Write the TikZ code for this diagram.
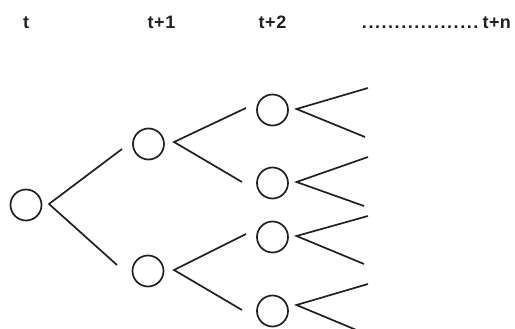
\documentclass[tikz,border=0pt]{standalone}
\usepackage{fontspec}
\setmainfont{Liberation Sans}
\definecolor{ink}{HTML}{231F20}
\begin{document}
\begin{tikzpicture}[x=1pt,y=-1pt,
  state/.style={circle,draw=ink,line width=1.7pt,minimum size=31pt,inner sep=0pt},
  branch/.style={draw=ink,line width=1.7pt},
  lbl/.style={anchor=base,inner sep=0pt,text=ink,font=\fontsize{18}{20}\selectfont\bfseries\addfontfeature{LetterSpace=4}}]
\clip (0,0) rectangle (515,329);
\useasboundingbox (0,0) rectangle (515,329);
% time labels
\node[lbl] (l0) at (26,29) {t};
\node[lbl] (l1) at (161.5,29) {t+1};
\node[lbl] (l2) at (272.5,29) {t+2};
\node[lbl,anchor=base west,font=\fontsize{18}{20}\selectfont\bfseries\addfontfeature{LetterSpace=2}] (ln) at (482.5,29) {t+n};
\node[lbl,anchor=base west,font=\fontsize{18}{20}\selectfont\bfseries] (dots) at (361,29)
  {\hbox to 117.9pt{\xleaders\hbox to 6.55pt{\hss.\hss}\hfill}};
% states
\node[state] (R) at (26,205) {};
\node[state] (A) at (148.5,144) {};
\node[state] (B) at (148,271) {};
\node[state] (C1) at (272.5,110) {};
\node[state] (C2) at (272.5,183) {};
\node[state] (C3) at (272.5,237) {};
\node[state] (C4) at (272.5,311) {};
% free ends
\coordinate (e1a) at (368,88);  \coordinate (e1b) at (365,137);
\coordinate (e2a) at (368,157); \coordinate (e2b) at (364,206);
\coordinate (e3a) at (368,216); \coordinate (e3b) at (364,264);
\coordinate (e4a) at (368,284); \coordinate (e4b) at (366,334);
% branches
\draw[branch] ([shift={(-26.5,5)}]A.center) -- ([shift={(23,-1)}]R.center) -- ([shift={(-31,-6)}]B.center);
\draw[branch] ([shift={(-26.5,-2)}]C1.center) -- ([shift={(25.5,-2)}]A.center) -- ([shift={(-30.5,-1)}]C2.center);
\draw[branch] ([shift={(-26.5,-3)}]C3.center) -- ([shift={(26,-1)}]B.center) -- ([shift={(-30.5,-1)}]C4.center);
\draw[branch] (e1a) -- ([shift={(24,-1)}]C1.center) -- (e1b);
\draw[branch] (e2a) -- ([shift={(24,-1)}]C2.center) -- (e2b);
\draw[branch] (e3a) -- ([shift={(24,-1)}]C3.center) -- (e3b);
\draw[branch] (e4a) -- ([shift={(24,-6)}]C4.center) -- (e4b);
\end{tikzpicture}
\end{document}
